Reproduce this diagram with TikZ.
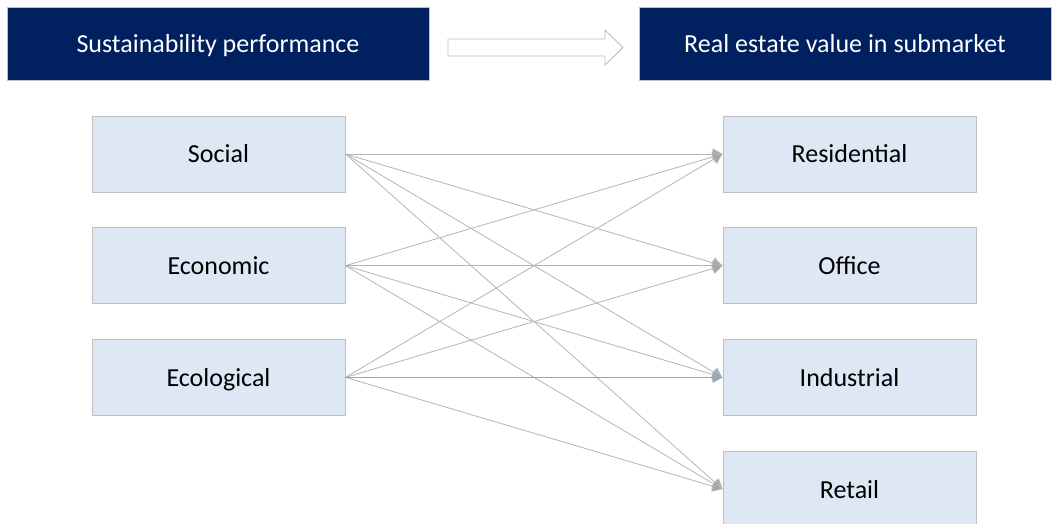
\documentclass[tikz,border=0pt]{standalone}
\usepackage{fontspec}
\setmainfont{Carlito}
\usepackage{xcolor}
\definecolor{HeadFill}{RGB}{0,32,96}
\definecolor{BoxFill}{RGB}{222,232,244}
\definecolor{BoxBorder}{RGB}{191,191,191}
\definecolor{LinkColor}{RGB}{180,180,180}
\definecolor{TipColor}{RGB}{166,166,166}
\definecolor{LinkBlue}{RGB}{125,170,222}
\usepackage{tikz}
\usetikzlibrary{
  positioning,
  arrows.meta
}
\tikzset{
  % Dark header box
  header/.style={
    rectangle,
    draw=BoxBorder,
    fill=HeadFill,
    line width=0.9pt,
    minimum height=73pt,
    inner sep=0pt,
    text height=18pt,
    text depth=0pt,
    text=white,
    font=\fontsize{26}{30}\selectfont
  },
  % Dimension box (left column)
  factor/.style={
    rectangle,
    draw=BoxBorder,
    fill=BoxFill,
    line width=0.9pt,
    minimum width=253pt,
    minimum height=76pt,
    inner sep=0pt,
    text height=18pt,
    text depth=0pt,
    font=\fontsize{26}{30}\selectfont
  },
  % Submarket box (right column)
  market/.style={factor},
  % Connector
  link/.style={
    draw=LinkColor,
    line width=0.8pt,
    -{Triangle[length=10pt,width=11pt,fill=TipColor]}
  },
  % Highlighted connector
  hlink/.style={
    link,
    draw=LinkBlue
  },
  % Hollow block arrow
  blockarrow/.style={
    draw=BoxBorder,
    fill=white,
    line width=0.9pt,
    line join=miter
  }
}

\begin{document}
\begin{tikzpicture}[x=1pt,y=-1pt]
  \useasboundingbox (0,0) rectangle (1053,524);
  \clip (0,0) rectangle (1053,524);

  % Headers
  \node[header, minimum width=422pt] (perf) at (218,43.5) {Sustainability performance};
  \node[header, minimum width=412pt] (value) at (845,43.5) {Real estate value in submarket};
  \draw[blockarrow] (448,39) -- (605,39) -- (605,30) -- (623,47.5)
    -- (605,65) -- (605,56) -- (448,56) -- cycle;

  % Sustainability dimensions
  \node[factor] (soc) at (218.5,154) {Social};
  \node[factor, below=34.8pt of soc] (eco) {Economic};
  \node[factor, below=34.8pt of eco] (ecl) {Ecological};

  % Submarkets
  \node[market] (res) at (849.5,154) {Residential};
  \node[market, below=34.8pt of res] (off) {Office};
  \node[market, below=34.8pt of off] (ind) {Industrial};
  \node[market, below=34.8pt of ind] (ret) {Retail};

  % Links
  \draw[link] (soc.east) -- (res.west);
  \draw[link] (soc.east) -- (off.west);
  \draw[link] (soc.east) -- (ind.west);
  \draw[link] (soc.east) -- (ret.west);
  \draw[link] (eco.east) -- (res.west);
  \draw[link] (eco.east) -- (off.west);
  \draw[link] (eco.east) -- (ind.west);
  \draw[link] (eco.east) -- (ret.west);
  \draw[link] (ecl.east) -- (res.west);
  \draw[link] (ecl.east) -- (off.west);
  \draw[link] (ecl.east) -- (ret.west);
  \draw[hlink] (ecl.east) -- (ind.west);
\end{tikzpicture}
\end{document}
